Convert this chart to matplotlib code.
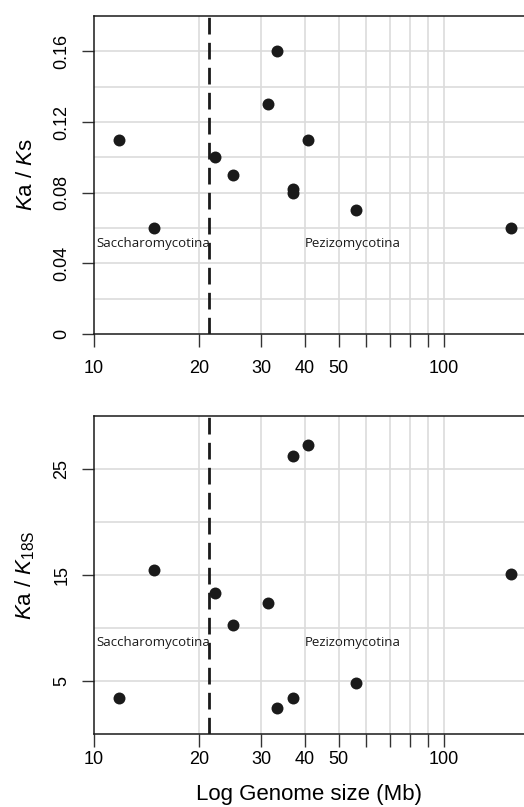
import matplotlib
matplotlib.use("Agg")
import matplotlib.pyplot as plt
import numpy as np

plt.rcParams["font.family"] = ["Liberation Sans", "DejaVu Sans"]
plt.rcParams["mathtext.fontset"] = "custom"
plt.rcParams["mathtext.rm"] = "Liberation Sans"
plt.rcParams["mathtext.it"] = "Liberation Sans:italic"

# genome sizes (Mb) shared by both panels
genome_size = [11.8, 14.8, 22.2, 25.0, 31.4, 33.3, 37.1, 37.1, 41.0, 55.9, 155.0]
ka_ks = [0.110, 0.060, 0.100, 0.090, 0.130, 0.160, 0.082, 0.080, 0.110, 0.070, 0.060]

genome_size_18s = [11.8, 14.8, 22.2, 25.0, 31.4, 33.3, 37.1, 37.1, 41.0, 55.9, 155.0]
ka_k18s = [3.4, 15.5, 13.3, 10.25, 12.4, 2.5, 26.2, 3.4, 27.3, 4.8, 15.1]

split_size = 21.35
x_ticks = [10, 20, 30, 40, 50, 60, 70, 80, 90, 100]
x_ticklabels = ["10", "20", "30", "40", "50", "", "", "", "", "100"]

top_yticks = [0, 0.04, 0.08, 0.12, 0.16]
top_yticklabels = ["0", "0.04", "0.08", "0.12", "0.16"]
bot_yticks = [5, 15, 25]
bot_yticklabels = ["5", "15", "25"]

W, H = 524, 807
fig = plt.figure(figsize=(W / 100, H / 100), dpi=100)

xmax = 10 * 10 ** ((W - 94) / 350)


def panel(top_px, bottom_px, xs, ys, ylim, yticks, yticklabels, ygrid, ylabel, label_y, xpad):
    ax = fig.add_axes([94 / W, 1 - bottom_px / H, (W - 94) / W, (bottom_px - top_px) / H])
    ax.set_xscale("log")
    ax.set_xlim(10, xmax)
    ax.set_ylim(*ylim)

    ax.set_xticks(x_ticks)
    ax.set_xticklabels(x_ticklabels)
    ax.xaxis.set_minor_locator(matplotlib.ticker.NullLocator())
    ax.set_yticks(yticks)
    ax.set_yticklabels(yticklabels, rotation=90, va="center")

    for v in ygrid:
        ax.axhline(v, color="#dcdcdc", lw=1.2, zorder=0)
    for v in x_ticks[1:]:
        ax.axvline(v, color="#dcdcdc", lw=1.2, zorder=0)

    ax.tick_params(axis="both", which="major", length=9, width=1.0, color="#333333",
                   labelsize=13, direction="out")
    ax.tick_params(axis="x", pad=xpad)
    ax.tick_params(axis="y", pad=8)
    for s in ["top", "left", "bottom"]:
        ax.spines[s].set_linewidth(1.1)
        ax.spines[s].set_color("#1a1a1a")
    ax.spines["right"].set_visible(False)

    ax.axvline(split_size, color="#1a1a1a", lw=2.0, ls=(0, (6, 3)), zorder=2)
    ax.scatter(xs, ys, s=74, color="#1a1a1a", zorder=3, linewidths=0)

    ax.text(10.13, label_y, "Saccharomycotina", ha="left", va="center",
            fontsize=9.5, family=["Open Sans", "DejaVu Sans"], color="#1a1a1a")
    ax.text(40.1, label_y, "Pezizomycotina", ha="left", va="center",
            fontsize=9.5, family=["Open Sans", "DejaVu Sans"], color="#1a1a1a")

    ax.set_ylabel(ylabel, fontsize=16, labelpad=12)
    return ax


panel(16, 334, genome_size, ka_ks, (0, 0.18), top_yticks, top_yticklabels,
      np.arange(0.02, 0.18, 0.02), r"$\mathit{K}$a / $\mathit{K}$s", 0.051, 10)
ax2 = panel(416, 734, genome_size_18s, ka_k18s, (0, 30), bot_yticks, bot_yticklabels,
            [5, 10, 15, 20, 25], r"$\mathit{K}$a / $\mathit{K}_{\mathrm{18S}}$", 8.65, 3)
ax2.set_xlabel("Log Genome size (Mb)", fontsize=16, labelpad=12)

fig.savefig("out.png", dpi=100)
